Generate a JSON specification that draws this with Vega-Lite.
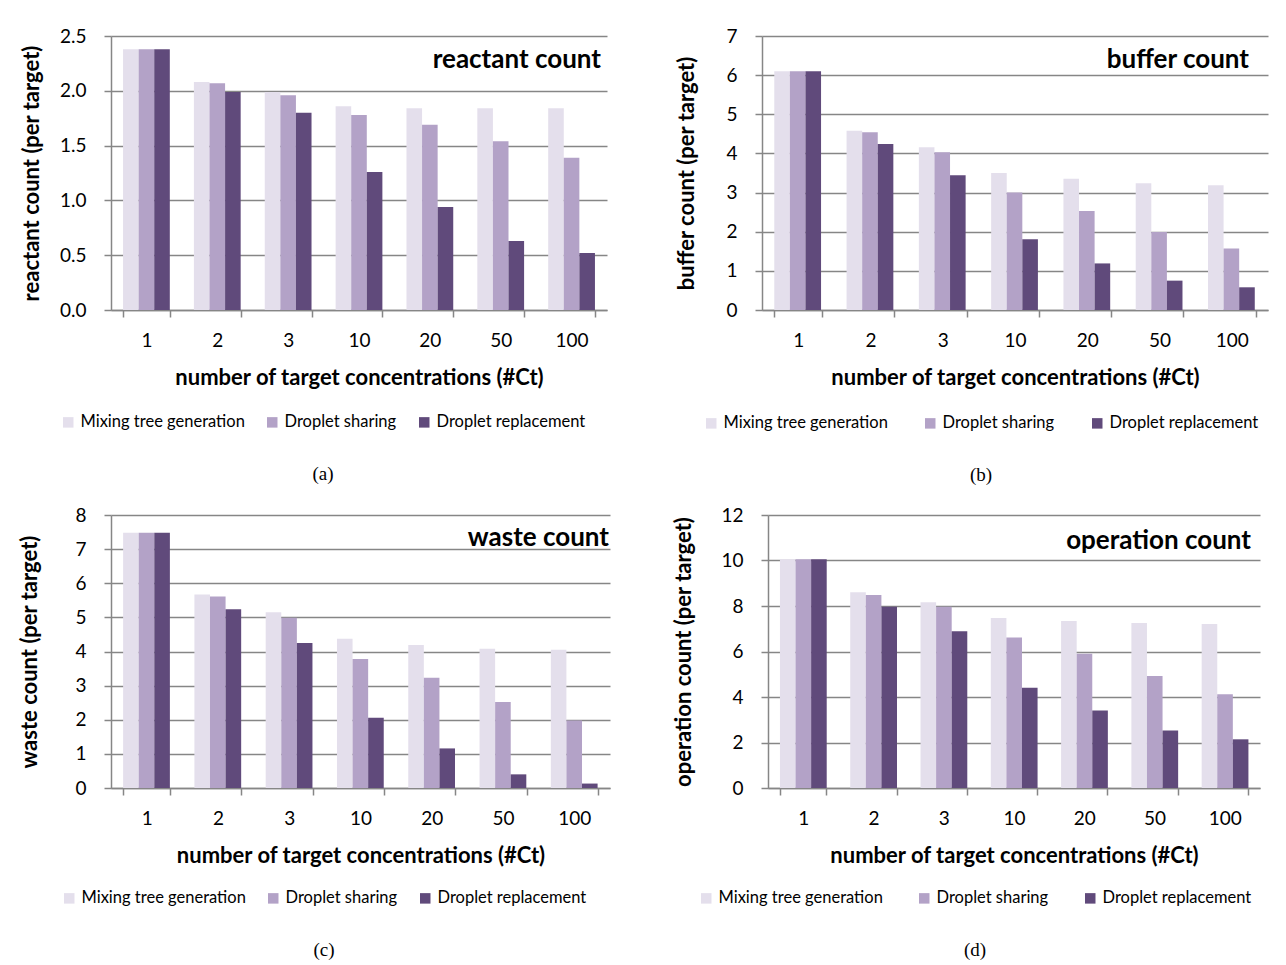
{
  "$schema": "https://vega.github.io/schema/vega-lite/v6.json",
  "padding": {"left": 18, "top": 27, "right": 4, "bottom": 4},
  "background": "white",
  "datasets": {
    "a": [
      {"ct": "1", "Mixing tree generation": 2.38, "Droplet sharing": 2.38, "Droplet replacement": 2.38},
      {"ct": "2", "Mixing tree generation": 2.08, "Droplet sharing": 2.07, "Droplet replacement": 1.99},
      {"ct": "3", "Mixing tree generation": 1.99, "Droplet sharing": 1.96, "Droplet replacement": 1.80},
      {"ct": "10", "Mixing tree generation": 1.86, "Droplet sharing": 1.78, "Droplet replacement": 1.26},
      {"ct": "20", "Mixing tree generation": 1.84, "Droplet sharing": 1.69, "Droplet replacement": 0.94},
      {"ct": "50", "Mixing tree generation": 1.84, "Droplet sharing": 1.54, "Droplet replacement": 0.63},
      {"ct": "100", "Mixing tree generation": 1.84, "Droplet sharing": 1.39, "Droplet replacement": 0.52}
    ],
    "b": [
      {"ct": "1", "Mixing tree generation": 6.10, "Droplet sharing": 6.10, "Droplet replacement": 6.10},
      {"ct": "2", "Mixing tree generation": 4.58, "Droplet sharing": 4.54, "Droplet replacement": 4.24},
      {"ct": "3", "Mixing tree generation": 4.16, "Droplet sharing": 4.03, "Droplet replacement": 3.44},
      {"ct": "10", "Mixing tree generation": 3.50, "Droplet sharing": 3.00, "Droplet replacement": 1.81},
      {"ct": "20", "Mixing tree generation": 3.35, "Droplet sharing": 2.53, "Droplet replacement": 1.19},
      {"ct": "50", "Mixing tree generation": 3.24, "Droplet sharing": 1.99, "Droplet replacement": 0.75},
      {"ct": "100", "Mixing tree generation": 3.19, "Droplet sharing": 1.57, "Droplet replacement": 0.58}
    ],
    "c": [
      {"ct": "1", "Mixing tree generation": 7.48, "Droplet sharing": 7.48, "Droplet replacement": 7.48},
      {"ct": "2", "Mixing tree generation": 5.67, "Droplet sharing": 5.61, "Droplet replacement": 5.24},
      {"ct": "3", "Mixing tree generation": 5.15, "Droplet sharing": 4.99, "Droplet replacement": 4.25},
      {"ct": "10", "Mixing tree generation": 4.37, "Droplet sharing": 3.78, "Droplet replacement": 2.06},
      {"ct": "20", "Mixing tree generation": 4.19, "Droplet sharing": 3.23, "Droplet replacement": 1.16},
      {"ct": "50", "Mixing tree generation": 4.08, "Droplet sharing": 2.52, "Droplet replacement": 0.40},
      {"ct": "100", "Mixing tree generation": 4.05, "Droplet sharing": 1.98, "Droplet replacement": 0.13}
    ],
    "d": [
      {"ct": "1", "Mixing tree generation": 10.05, "Droplet sharing": 10.05, "Droplet replacement": 10.05},
      {"ct": "2", "Mixing tree generation": 8.60, "Droplet sharing": 8.48, "Droplet replacement": 7.97},
      {"ct": "3", "Mixing tree generation": 8.16, "Droplet sharing": 7.97, "Droplet replacement": 6.89},
      {"ct": "10", "Mixing tree generation": 7.47, "Droplet sharing": 6.62, "Droplet replacement": 4.41},
      {"ct": "20", "Mixing tree generation": 7.34, "Droplet sharing": 5.90, "Droplet replacement": 3.41},
      {"ct": "50", "Mixing tree generation": 7.25, "Droplet sharing": 4.92, "Droplet replacement": 2.53},
      {"ct": "100", "Mixing tree generation": 7.21, "Droplet sharing": 4.12, "Droplet replacement": 2.14}
    ]
  },
  "vconcat": [
    {
      "spacing": 68,
      "hconcat": [
        {
          "width": 496, "height": 274,
          "data": {"name": "a"},
          "transform": [{"fold": ["Mixing tree generation", "Droplet sharing", "Droplet replacement"], "as": ["method", "value"]}],
          "title": {"text": "reactant count", "anchor": "end", "frame": "group", "offset": -46, "baseline": "top", "dx": -6},
          "mark": {"type": "bar"},
          "encoding": {
            "x": {"field": "ct", "type": "nominal", "sort": ["1", "2", "3", "10", "20", "50", "100"], "scale": {"paddingInner": 0.34, "paddingOuter": 0.17}, "axis": {"title": "number of target concentrations (#Ct)"}},
            "xOffset": {"field": "method", "type": "nominal", "sort": ["Mixing tree generation", "Droplet sharing", "Droplet replacement"], "scale": {"paddingInner": 0, "paddingOuter": 0}},
            "y": {"field": "value", "type": "quantitative", "scale": {"domain": [0, 2.5]}, "axis": {"values": [0, 0.5, 1, 1.5, 2, 2.5], "format": ".1f", "title": "reactant count (per target)"}},
            "color": {"field": "method", "type": "nominal", "sort": ["Mixing tree generation", "Droplet sharing", "Droplet replacement"], "scale": {"domain": ["Mixing tree generation", "Droplet sharing", "Droplet replacement"], "range": ["#E4DFEC", "#B3A2C7", "#604A7B"]}, "legend": {"title": "(a)", "legendX": -51, "legendY": 378, "columnPadding": 19}}
          }
        },
        {
          "width": 506, "height": 274,
          "data": {"name": "b"},
          "transform": [{"fold": ["Mixing tree generation", "Droplet sharing", "Droplet replacement"], "as": ["method", "value"]}],
          "title": {"text": "buffer count", "anchor": "end", "frame": "group", "offset": -46, "baseline": "top", "dx": -19},
          "mark": {"type": "bar"},
          "encoding": {
            "x": {"field": "ct", "type": "nominal", "sort": ["1", "2", "3", "10", "20", "50", "100"], "scale": {"paddingInner": 0.34, "paddingOuter": 0.17}, "axis": {"title": "number of target concentrations (#Ct)"}},
            "xOffset": {"field": "method", "type": "nominal", "sort": ["Mixing tree generation", "Droplet sharing", "Droplet replacement"], "scale": {"paddingInner": 0, "paddingOuter": 0}},
            "y": {"field": "value", "type": "quantitative", "scale": {"domain": [0, 7]}, "axis": {"values": [0, 1, 2, 3, 4, 5, 6, 7], "format": "d", "title": "buffer count (per target)", "titlePadding": 27}},
            "color": {"field": "method", "type": "nominal", "sort": ["Mixing tree generation", "Droplet sharing", "Droplet replacement"], "scale": {"domain": ["Mixing tree generation", "Droplet sharing", "Droplet replacement"], "range": ["#E4DFEC", "#B3A2C7", "#604A7B"]}, "legend": {"title": "(b)", "legendX": -59, "legendY": 379, "columnPadding": 34}}
          }
        }
      ],
      "resolve": {"scale": {"color": "independent"}, "legend": {"color": "independent"}}
    },
    {
      "spacing": 62,
      "hconcat": [
        {
          "width": 499, "height": 273,
          "data": {"name": "c"},
          "transform": [{"fold": ["Mixing tree generation", "Droplet sharing", "Droplet replacement"], "as": ["method", "value"]}],
          "title": {"text": "waste count", "anchor": "end", "frame": "group", "offset": -45, "baseline": "top", "dx": -1},
          "mark": {"type": "bar"},
          "encoding": {
            "x": {"field": "ct", "type": "nominal", "sort": ["1", "2", "3", "10", "20", "50", "100"], "scale": {"paddingInner": 0.34, "paddingOuter": 0.17}, "axis": {"title": "number of target concentrations (#Ct)"}},
            "xOffset": {"field": "method", "type": "nominal", "sort": ["Mixing tree generation", "Droplet sharing", "Droplet replacement"], "scale": {"paddingInner": 0, "paddingOuter": 0}},
            "y": {"field": "value", "type": "quantitative", "scale": {"domain": [0, 8]}, "axis": {"values": [0, 1, 2, 3, 4, 5, 6, 7, 8], "format": "d", "title": "waste count (per target)", "titlePadding": 33}},
            "color": {"field": "method", "type": "nominal", "sort": ["Mixing tree generation", "Droplet sharing", "Droplet replacement"], "scale": {"domain": ["Mixing tree generation", "Droplet sharing", "Droplet replacement"], "range": ["#E4DFEC", "#B3A2C7", "#604A7B"]}, "legend": {"title": "(c)", "legendX": -50, "legendY": 375, "columnPadding": 19}}
          }
        },
        {
          "width": 492, "height": 273,
          "data": {"name": "d"},
          "transform": [{"fold": ["Mixing tree generation", "Droplet sharing", "Droplet replacement"], "as": ["method", "value"]}],
          "title": {"text": "operation count", "anchor": "end", "frame": "group", "offset": -48, "baseline": "top", "dx": -9},
          "mark": {"type": "bar"},
          "encoding": {
            "x": {"field": "ct", "type": "nominal", "sort": ["1", "2", "3", "10", "20", "50", "100"], "scale": {"paddingInner": 0.34, "paddingOuter": 0.17}, "axis": {"title": "number of target concentrations (#Ct)"}},
            "xOffset": {"field": "method", "type": "nominal", "sort": ["Mixing tree generation", "Droplet sharing", "Droplet replacement"], "scale": {"paddingInner": 0, "paddingOuter": 0}},
            "y": {"field": "value", "type": "quantitative", "scale": {"domain": [0, 12]}, "axis": {"values": [0, 2, 4, 6, 8, 10, 12], "format": "d", "title": "operation count (per target)", "titlePadding": 25}},
            "color": {"field": "method", "type": "nominal", "sort": ["Mixing tree generation", "Droplet sharing", "Droplet replacement"], "scale": {"domain": ["Mixing tree generation", "Droplet sharing", "Droplet replacement"], "range": ["#E4DFEC", "#B3A2C7", "#604A7B"]}, "legend": {"title": "(d)", "legendX": -70, "legendY": 375, "columnPadding": 33}}
          }
        }
      ],
      "resolve": {"scale": {"color": "independent"}, "legend": {"color": "independent"}}
    }
  ],
  "spacing": 21,
  "config": {
    "font": "Lato",
    "view": {"stroke": null},
    "axis": {"labelFont": "Lato", "labelFontSize": 19, "labelColor": "#000", "titleFont": "Lato", "titleFontSize": 22, "titleFontWeight": "bold", "titleColor": "#000", "domainColor": "#868686", "domainWidth": 1.5, "tickColor": "#868686", "tickWidth": 1.5, "gridColor": "#868686", "gridWidth": 1.5},
    "axisX": {"tickBand": "extent", "tickSize": 7, "labelPadding": 14, "titlePadding": 17, "labelAngle": 0, "grid": false},
    "axisY": {"tickSize": 7, "labelPadding": 18, "titlePadding": 16, "grid": true},
    "legend": {"orient": "none", "direction": "horizontal", "symbolType": "square", "symbolSize": 110, "symbolStrokeWidth": 0, "symbolOpacity": 1, "labelFont": "Lato", "labelFontSize": 16.5, "labelLimit": 400, "labelColor": "#000", "labelOffset": 4, "titleOrient": "bottom", "titleAnchor": "middle", "titleFont": "Liberation Serif", "titleFontSize": 19, "titleFontWeight": "normal", "titleColor": "#000", "titlePadding": 34},
    "title": {"font": "Lato", "fontSize": 26, "fontWeight": "bold", "color": "#000"}
  }
}
